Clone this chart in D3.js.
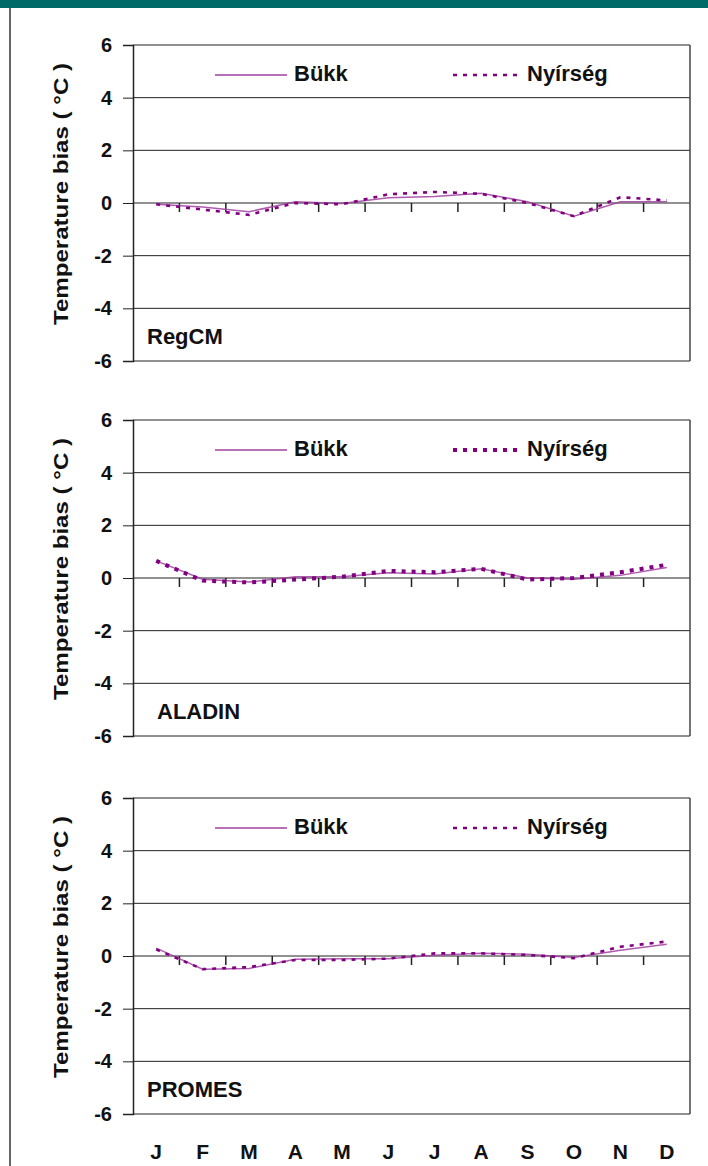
<!DOCTYPE html>
<html>
<head>
<meta charset="utf-8">
<script src="https://cdn.jsdelivr.net/npm/d3@7"></script>
<style>
  body { margin: 0; background: #fff; }
  svg { display: block; }
  text { font-family: "Liberation Sans", Arial, sans-serif; font-weight: bold; fill: #111; }
</style>
</head>
<body>
<svg id="chart"></svg>
<script>
const months = ['J', 'F', 'M', 'A', 'M', 'J', 'J', 'A', 'S', 'O', 'N', 'D'];
const yTicks = [-6, -4, -2, 0, 2, 4, 6];
const seriesNames = ['Bükk', 'Nyírség'];
const modelNames = ['RegCM', 'ALADIN', 'PROMES'];

// monthly temperature bias (°C)
const regcmBukk = [-0.05, -0.15, -0.33, 0.05, -0.02, 0.2, 0.25, 0.37, 0.05, -0.5, 0.05, 0.05];
const regcmNyir = [-0.05, -0.25, -0.45, 0.0, -0.05, 0.33, 0.42, 0.35, 0.0, -0.5, 0.22, 0.1];
const aladinBukk = [0.65, -0.05, -0.15, 0.05, 0.05, 0.2, 0.15, 0.35, 0.0, -0.05, 0.1, 0.4];
const aladinNyir = [0.65, -0.1, -0.17, -0.06, 0.05, 0.27, 0.22, 0.35, -0.06, 0.0, 0.22, 0.5];
const promesBukk = [0.3, -0.5, -0.47, -0.12, -0.1, -0.1, 0.03, 0.1, 0.07, -0.06, 0.22, 0.45];
const promesNyir = [0.25, -0.5, -0.42, -0.15, -0.15, -0.1, 0.1, 0.1, 0.04, -0.08, 0.35, 0.55];

const width = 708, height = 1166;
const panels = [
    { name: modelNames[0], bukk: regcmBukk, nyir: regcmNyir, top: 45, dotW: 2.6, labelX: 147 },
    { name: modelNames[1], bukk: aladinBukk, nyir: aladinNyir, top: 420, dotW: 4, labelX: 157 },
    { name: modelNames[2], bukk: promesBukk, nyir: promesNyir, top: 798, dotW: 2.6, labelX: 147 },
];
const plotLeft = 133, plotRight = 690, plotH = 316;
const bukkColor = '#a040a0', nyirColor = '#800080';

const svg = d3.select('#chart').attr('width', width).attr('height', height);

// teal banner at the top and the frame line on the left
svg.append('rect').attr('x', 0).attr('y', 0).attr('width', width).attr('height', 8).attr('fill', '#006a68');
svg.append('line').attr('x1', 10).attr('x2', 10).attr('y1', 8).attr('y2', height)
    .attr('stroke', '#333').attr('stroke-width', 1.5);

const xScale = d3.scaleBand().domain(d3.range(12)).range([plotLeft, plotRight]);

panels.forEach(p => {
    const yScale = d3.scaleLinear().domain([-6, 6]).range([p.top + plotH, p.top]);
    const g = svg.append('g');

    // horizontal grid lines
    g.selectAll('.grid').data(yTicks).join('line')
        .attr('x1', plotLeft).attr('x2', plotRight)
        .attr('y1', d => yScale(d)).attr('y2', d => yScale(d))
        .attr('stroke', '#222').attr('stroke-width', 1);

    // box right side
    g.append('line').attr('x1', plotRight).attr('x2', plotRight)
        .attr('y1', p.top).attr('y2', p.top + plotH)
        .attr('stroke', '#444').attr('stroke-width', 1.5);

    // y axis
    const yAxis = g.append('g').attr('transform', `translate(${plotLeft},0)`)
        .call(d3.axisLeft(yScale).tickValues(yTicks).tickSize(10).tickPadding(11)
            .tickFormat(d => String(d)));
    yAxis.select('.domain').attr('stroke', '#222').attr('stroke-width', 1.5);
    yAxis.selectAll('.tick line').attr('stroke', '#222');
    yAxis.selectAll('.tick text').style('font-size', '20px')
        .style('font-family', '"Liberation Sans", sans-serif').style('font-weight', 'bold').attr('fill', '#111');

    // month ticks on the zero line
    g.selectAll('.mtick').data(d3.range(1, 12)).join('line')
        .attr('x1', d => plotLeft + d * xScale.bandwidth())
        .attr('x2', d => plotLeft + d * xScale.bandwidth())
        .attr('y1', yScale(0)).attr('y2', yScale(0) + 9)
        .attr('stroke', '#222').attr('stroke-width', 1.5);

    // axis title
    g.append('text')
        .attr('transform', `translate(68,${yScale(0) - 9}) rotate(-90)`)
        .attr('text-anchor', 'middle')
        .attr('textLength', 262)
        .attr('lengthAdjust', 'spacingAndGlyphs')
        .style('font-size', '21px')
        .text('Temperature bias ( °C )');

    const line = d3.line()
        .x((d, i) => xScale(i) + xScale.bandwidth() / 2)
        .y(d => yScale(d));

    g.append('path').datum(p.bukk).attr('d', line)
        .attr('fill', 'none').attr('stroke', bukkColor).attr('stroke-width', 1.5).attr('opacity', 0.85);
    g.append('path').datum(p.nyir).attr('d', line)
        .attr('fill', 'none').attr('stroke', nyirColor).attr('stroke-width', p.dotW)
        .attr('stroke-dasharray', '4,6');

    // legend
    const ly = p.top + 30;
    g.append('line').attr('x1', 215).attr('x2', 287).attr('y1', ly).attr('y2', ly)
        .attr('stroke', bukkColor).attr('stroke-width', 1.5);
    g.append('text').attr('x', 294).attr('y', ly + 6).style('font-size', '22px').text(seriesNames[0]);
    g.append('line').attr('x1', 453).attr('x2', 518).attr('y1', ly).attr('y2', ly)
        .attr('stroke', nyirColor).attr('stroke-width', p.dotW).attr('stroke-dasharray', '4,6');
    g.append('text').attr('x', 527).attr('y', ly + 6).style('font-size', '22px').text(seriesNames[1]);

    // model label
    g.append('text').attr('x', p.labelX).attr('y', p.top + plotH - 17)
        .style('font-size', '22px').text(p.name);
});

// month labels along the bottom
svg.selectAll('.month').data(months).join('text')
    .attr('x', (d, i) => xScale(i) + xScale.bandwidth() / 2)
    .attr('y', 1159)
    .attr('text-anchor', 'middle')
    .style('font-size', '21px')
    .text(d => d);
</script>
</body>
</html>
